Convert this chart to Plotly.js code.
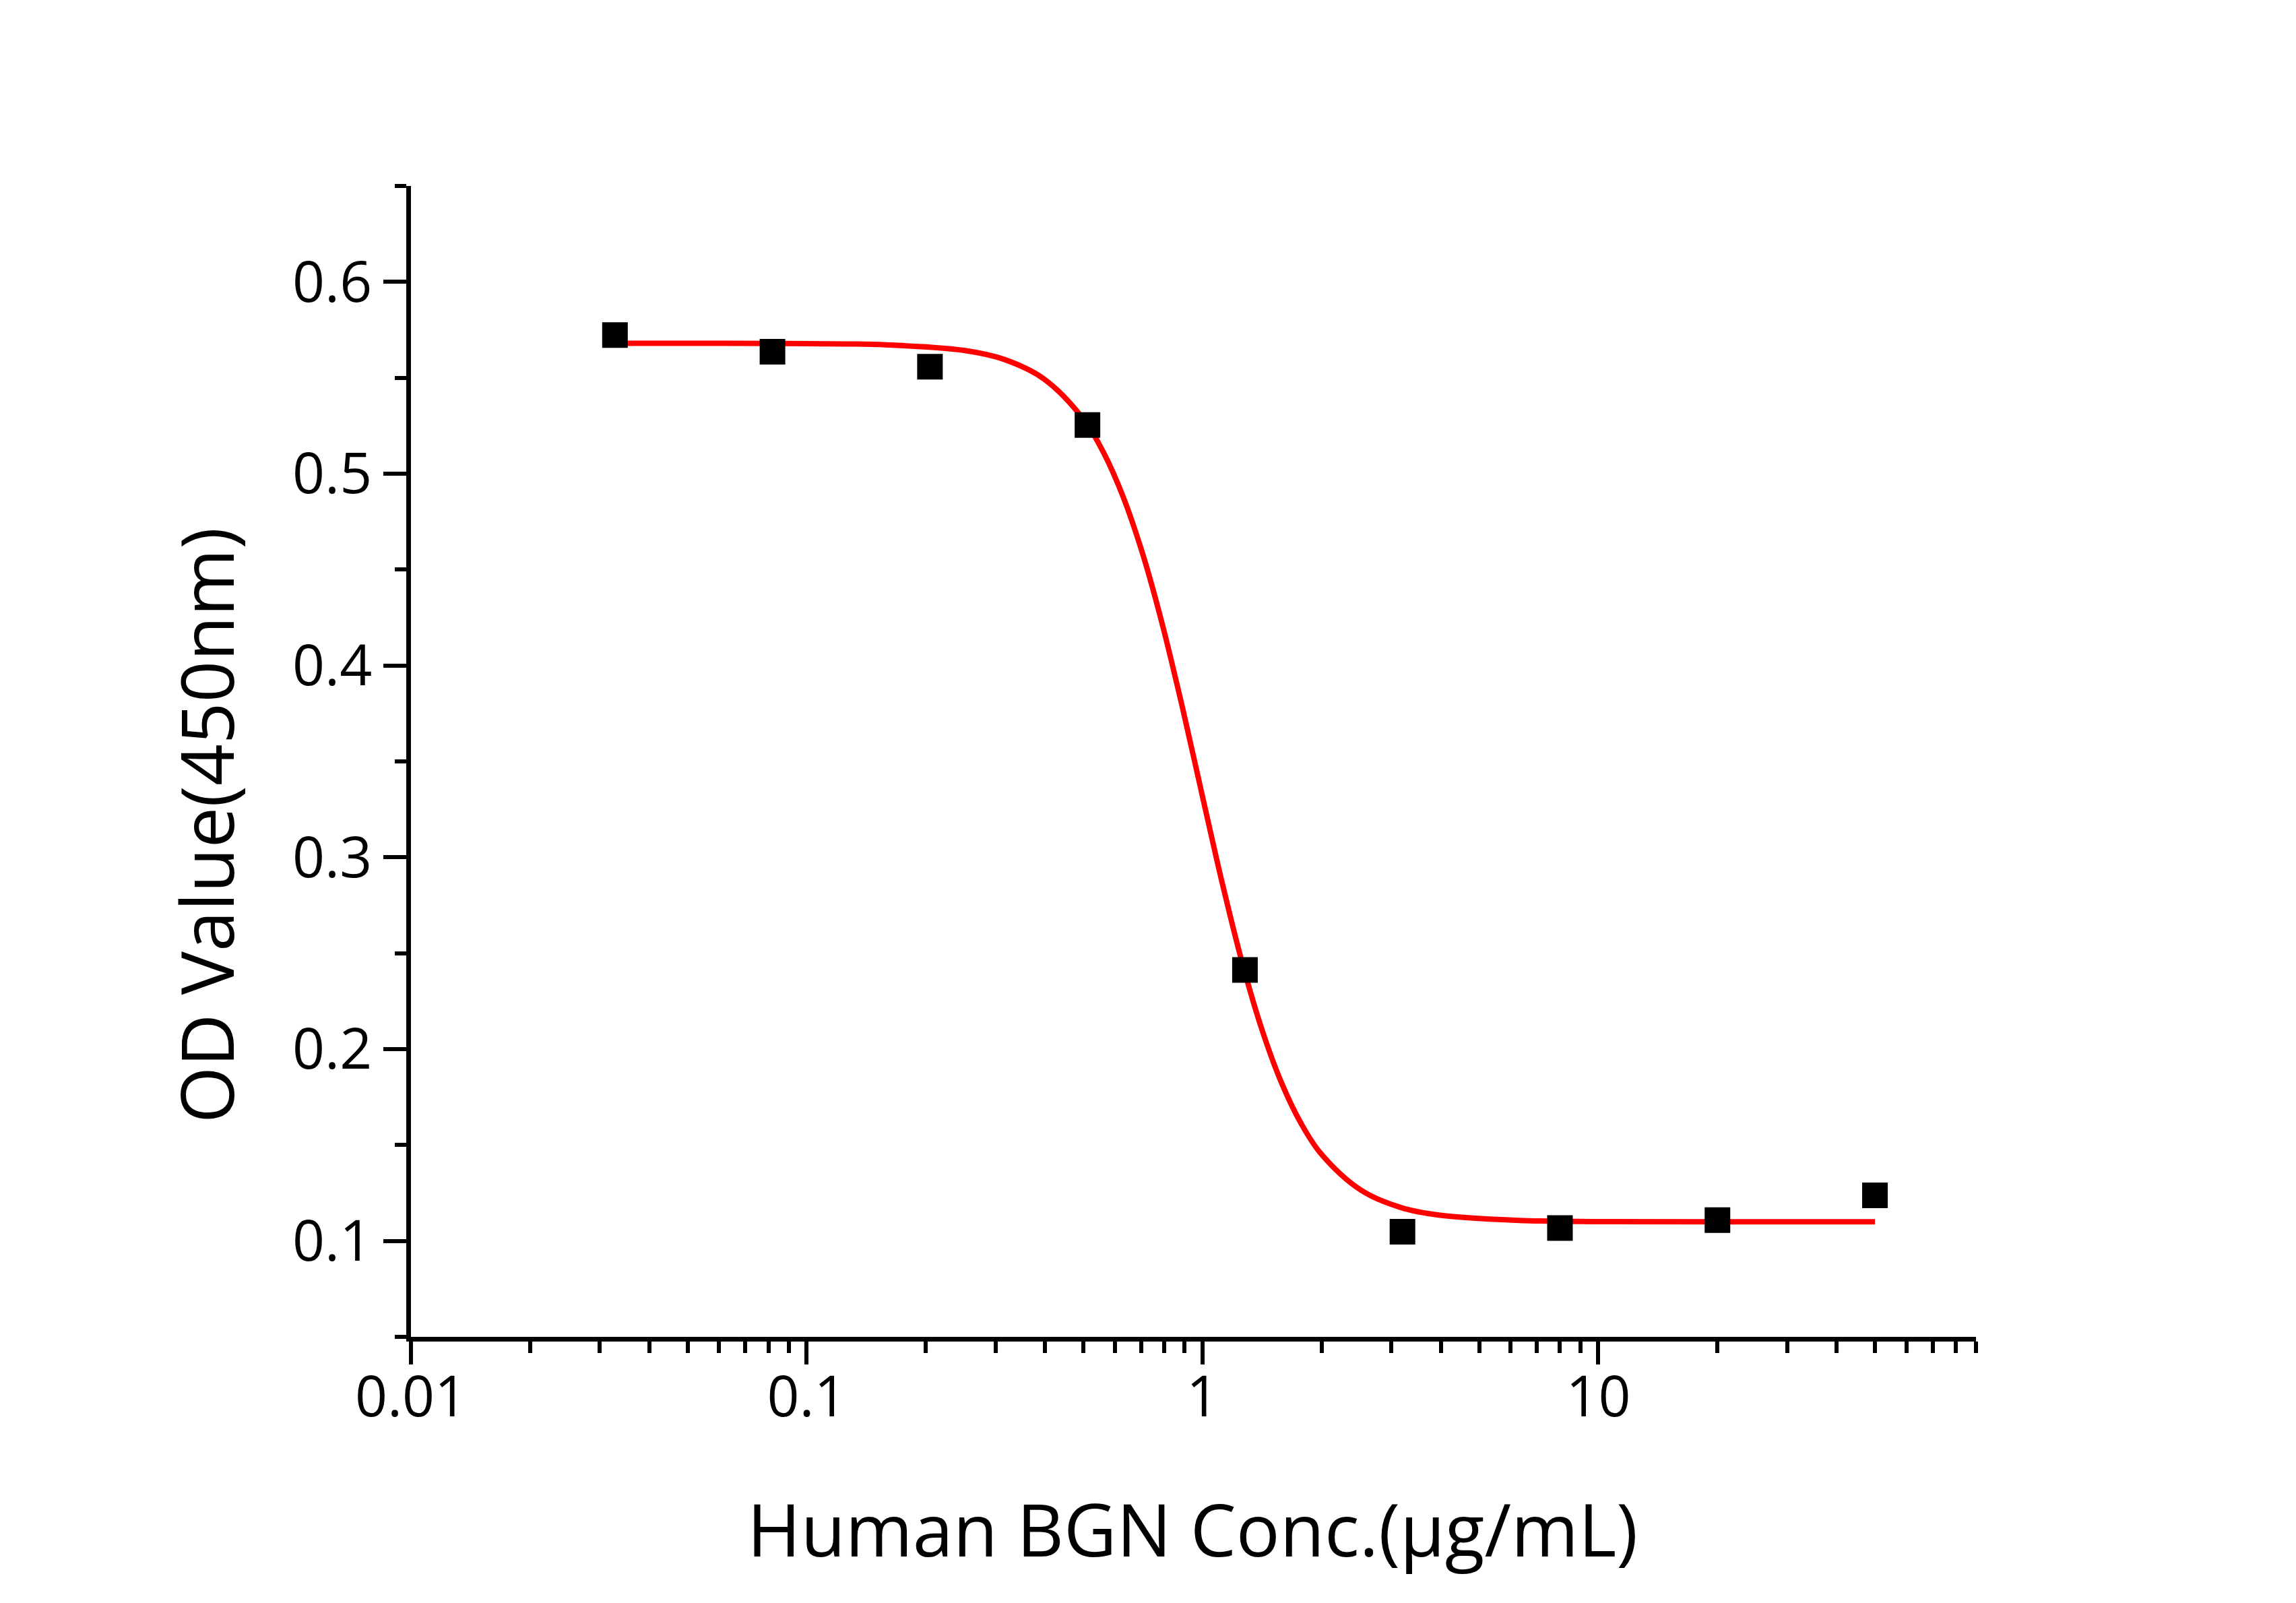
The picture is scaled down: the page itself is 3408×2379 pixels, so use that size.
<!DOCTYPE html>
<html>
<head>
<meta charset="utf-8">
<script src="https://cdn.plot.ly/plotly-3.0.1.min.js"></script>
<style>
  html, body { margin: 0; padding: 0; background: #ffffff; }
  #chart { width: 3408px; height: 2379px; }
</style>
</head>
<body>
<div id="chart"></div>
<script>
const concentrations = [0.032768, 0.08192, 0.2048, 0.512, 1.28, 3.2, 8, 20, 50];
const odValues = [0.5723, 0.5636, 0.5558, 0.5254, 0.2413, 0.1048, 0.1067, 0.1109, 0.1238];

const curveX = [0.032768, 0.0631, 0.1, 0.1585, 0.2512, 0.3162, 0.3981, 0.5012, 0.5623, 0.6310,
                0.7079, 0.7943, 0.8913, 1.0, 1.122, 1.259, 1.413, 1.585, 1.778, 1.995,
                2.512, 3.162, 3.981, 6.310, 10, 19.95, 50];
const curveY = [0.5680, 0.5680, 0.5678, 0.5672, 0.5642, 0.5595, 0.5493, 0.5282, 0.5110, 0.4876,
                0.4574, 0.4202, 0.3774, 0.3316, 0.2864, 0.2452, 0.2102, 0.1822, 0.1609, 0.1453,
                0.1265, 0.1175, 0.1134, 0.1107, 0.1101, 0.1100, 0.1100];

const xTickVals = [0.01, 0.1, 1, 10];
const xTickText = ['0.01', '0.1', '1', '10'];
const xMinorVals = [0.02, 0.03, 0.04, 0.05, 0.06, 0.07, 0.08, 0.09,
                    0.2, 0.3, 0.4, 0.5, 0.6, 0.7, 0.8, 0.9,
                    2, 3, 4, 5, 6, 7, 8, 9,
                    20, 30, 40, 50, 60, 70, 80, 90];
const yTickVals = [0.1, 0.2, 0.3, 0.4, 0.5, 0.6];
const yTickText = ['0.1', '0.2', '0.3', '0.4', '0.5', '0.6'];
const yMinorVals = [0.05, 0.15, 0.25, 0.35, 0.45, 0.55, 0.65];

const xTitle = 'Human BGN Conc.(μg/mL)';
const yTitle = 'OD Value(450nm)';

const FONT = '"Open Sans", "Noto Sans", "DejaVu Sans", sans-serif';

const traces = [
  {
    x: curveX, y: curveY,
    type: 'scatter', mode: 'lines',
    line: { color: '#ff0000', width: 8, shape: 'spline', smoothing: 1 },
    hoverinfo: 'skip', showlegend: false
  },
  {
    x: concentrations, y: odValues,
    type: 'scatter', mode: 'markers',
    marker: { symbol: 'square', size: 38, color: '#000000', line: { width: 0 } },
    showlegend: false
  }
];

const layout = {
  width: 3408, height: 2379,
  paper_bgcolor: '#ffffff', plot_bgcolor: '#ffffff',
  margin: { l: 610, r: 475, t: 276, b: 395, pad: 0 },
  showlegend: false,
  font: { family: FONT, color: '#000000' },
  xaxis: {
    type: 'log',
    range: [-2, Math.log10(90)],
    showgrid: false, zeroline: false,
    showline: true, linecolor: '#000000', linewidth: 7,
    ticks: 'outside', ticklen: 34, tickwidth: 6, tickcolor: '#000000',
    tickmode: 'array', tickvals: xTickVals, ticktext: xTickText,
    ticklabelstandoff: -24,
    tickfont: { family: FONT, size: 84, color: '#000000' },
    minor: { tickmode: 'array', tickvals: xMinorVals, ticks: 'outside', ticklen: 17, tickwidth: 6, tickcolor: '#000000', showgrid: false }
  },
  yaxis: {
    range: [0.05, 0.65],
    showgrid: false, zeroline: false,
    showline: true, linecolor: '#000000', linewidth: 7,
    ticks: 'outside', ticklen: 34, tickwidth: 6, tickcolor: '#000000',
    tickmode: 'array', tickvals: yTickVals, ticktext: yTickText,
    tickfont: { family: FONT, size: 84, color: '#000000' },
    minor: { tickmode: 'array', tickvals: yMinorVals, ticks: 'outside', ticklen: 17, tickwidth: 6, tickcolor: '#000000', showgrid: false }
  },
  annotations: [
    {
      text: xTitle, xref: 'paper', yref: 'paper',
      x: 0.4995, y: -0.1224, xanchor: 'center', yanchor: 'top',
      showarrow: false, font: { family: FONT, size: 108, color: '#000000' }
    },
    {
      text: yTitle, xref: 'paper', yref: 'paper',
      x: -0.1309, y: 0.4444, xanchor: 'center', yanchor: 'middle',
      textangle: -90,
      showarrow: false, font: { family: FONT, size: 108, color: '#000000' }
    }
  ]
};

Plotly.newPlot('chart', traces, layout, { staticPlot: true, displayModeBar: false });
</script>
</body>
</html>
